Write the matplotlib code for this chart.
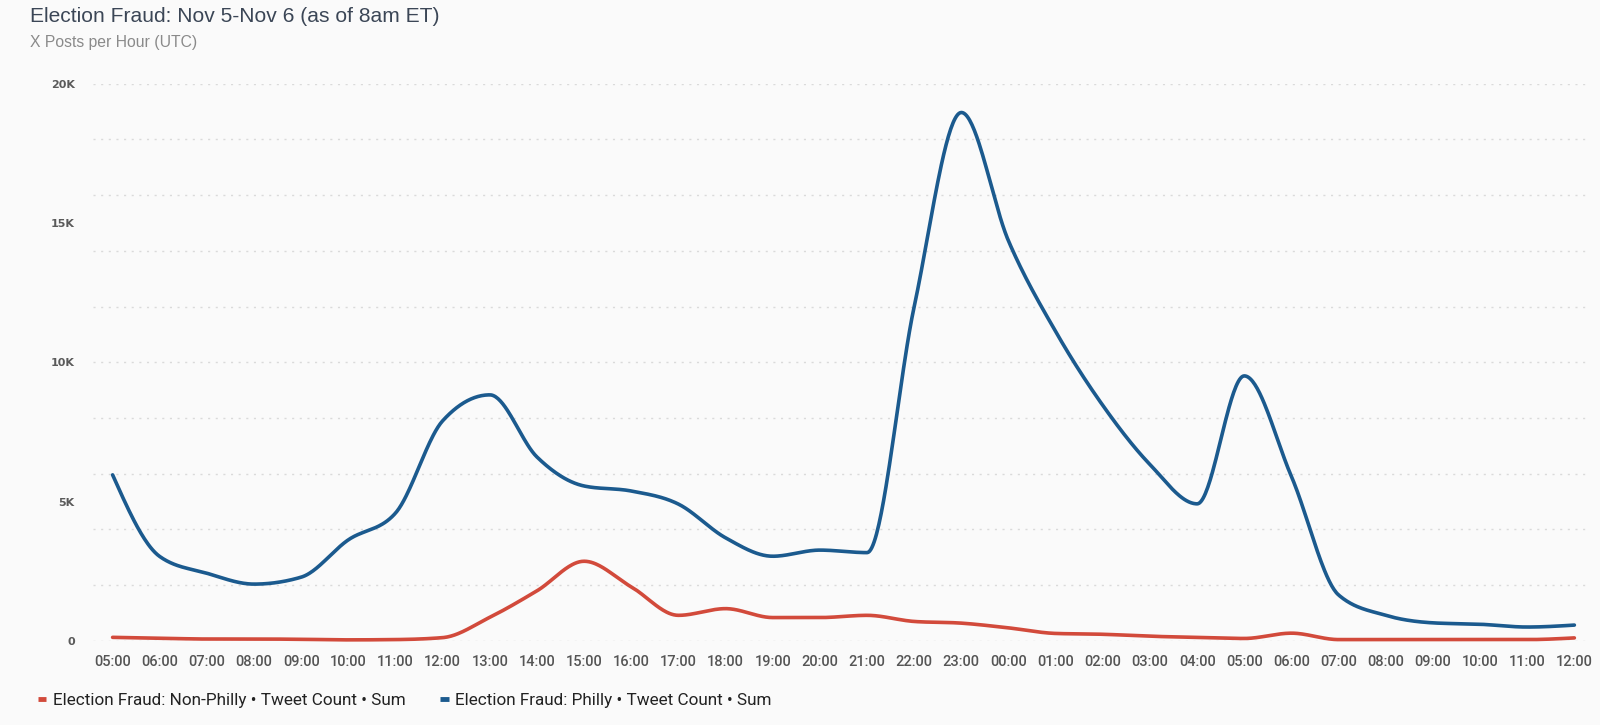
import numpy as np
import matplotlib
matplotlib.use("Agg")
import matplotlib.pyplot as plt

# hourly data, 05:00 Nov 5 -> 12:00 Nov 6 (UTC)
hours = ["05:00", "06:00", "07:00", "08:00", "09:00", "10:00", "11:00", "12:00",
         "13:00", "14:00", "15:00", "16:00", "17:00", "18:00", "19:00", "20:00",
         "21:00", "22:00", "23:00", "00:00", "01:00", "02:00", "03:00", "04:00",
         "05:00", "06:00", "07:00", "08:00", "09:00", "10:00", "11:00", "12:00"]

philly = [5960, 3030, 2430, 2040, 2290, 3630, 4590, 7900,
          8830, 6600, 5560, 5380, 4910, 3700, 3040, 3260,
          3170, 12000, 18960, 14350, 11100, 8450, 6330, 4920,
          9510, 5900, 1650, 920, 650, 600, 500, 570]

non_philly = [130, 100, 70, 70, 60, 40, 50, 120,
              850, 1800, 2860, 1940, 920, 1160, 840, 840,
              920, 700, 640, 470, 270, 240, 170, 130,
              90, 280, 50, 50, 50, 50, 50, 110]

yticks = [0, 5000, 10000, 15000, 20000]
ylabels = ["0", "5K", "10K", "15K", "20K"]

BLUE = "#1b5a8e"
RED = "#d24a3b"
BG = "#fafafa"


def monotone(x, y, n=40):
    # monotone cubic (same idea as d3 curveMonotoneX) for the smooth line
    x = np.asarray(x, float)
    y = np.asarray(y, float)
    h = np.diff(x)
    s = np.diff(y) / h
    t = np.zeros_like(y)
    for i in range(1, len(y) - 1):
        p = (s[i - 1] * h[i] + s[i] * h[i - 1]) / (h[i - 1] + h[i])
        t[i] = (np.sign(s[i - 1]) + np.sign(s[i])) * min(abs(s[i - 1]), abs(s[i]), 0.5 * abs(p))
    t[0] = (3 * s[0] - t[1]) / 2
    t[-1] = (3 * s[-1] - t[-2]) / 2
    xs, ys = [], []
    for i in range(len(h)):
        u = np.linspace(0, 1, n, endpoint=(i == len(h) - 1))
        h00 = 2 * u**3 - 3 * u**2 + 1
        h10 = u**3 - 2 * u**2 + u
        h01 = -2 * u**3 + 3 * u**2
        h11 = u**3 - u**2
        ys.append(h00 * y[i] + h10 * h[i] * t[i] + h01 * y[i + 1] + h11 * h[i] * t[i + 1])
        xs.append(x[i] + u * h[i])
    return np.concatenate(xs), np.concatenate(ys)


x = np.arange(len(hours))

fig = plt.figure(figsize=(16, 7.25), dpi=100, facecolor=BG)
ax = fig.add_axes([0.058, 0.1159, 0.936, 0.7689], facecolor=BG)

for vals, col, lab in [(non_philly, RED, "Election Fraud: Non-Philly \u2022 Tweet Count \u2022 Sum"),
                       (philly, BLUE, "Election Fraud: Philly \u2022 Tweet Count \u2022 Sum")]:
    sx, sy = monotone(x, vals)
    ax.plot(sx, sy, color=col, lw=2.6, solid_capstyle="round", clip_on=False, label=lab, zorder=3)

ax.set_xlim(-0.42, len(hours) - 1 + 0.34)
ax.set_ylim(0, 20000)

ax.set_yticks(yticks)
ax.set_yticklabels(ylabels, fontsize=8, fontweight="bold", color="#5a5a5a", family="DejaVu Sans")
ax.set_yticks(np.arange(0, 20001, 2000), minor=True)
ax.yaxis.remove_overlapping_locs = False
ax.grid(which="minor", axis="y", color="#dadada", lw=1, ls=(0, (1.5, 4)))
ax.tick_params(axis="y", which="both", length=0, pad=13)

ax.set_xticks(x)
ax.set_xticklabels(hours, fontsize=10.5, color="#555555", family="Roboto", fontweight="medium")
ax.tick_params(axis="x", length=0, pad=10)

for sp in ax.spines.values():
    sp.set_visible(False)

fig.text(0.019, 0.977, "Election Fraud: Nov 5-Nov 6 (as of 8am ET)", fontsize=15.1,
         color="#3b4656", family="Liberation Sans", va="center")
fig.text(0.019, 0.941, "X Posts per Hour (UTC)", fontsize=11.3,
         color="#8a8a8a", family="Liberation Sans", va="center")

leg = fig.legend(loc="center left", bbox_to_anchor=(0.014, 0.034), ncol=2, frameon=False,
                 handlelength=0.5, handletextpad=0.4, columnspacing=2.0,
                 prop={"family": "Roboto", "size": 12.3})
for line in leg.get_lines():
    line.set_linewidth(3.5)
    line.set_solid_capstyle("butt")
for txt in leg.get_texts():
    txt.set_color("#222222")

fig.savefig("out.png", dpi=100, facecolor=BG)
